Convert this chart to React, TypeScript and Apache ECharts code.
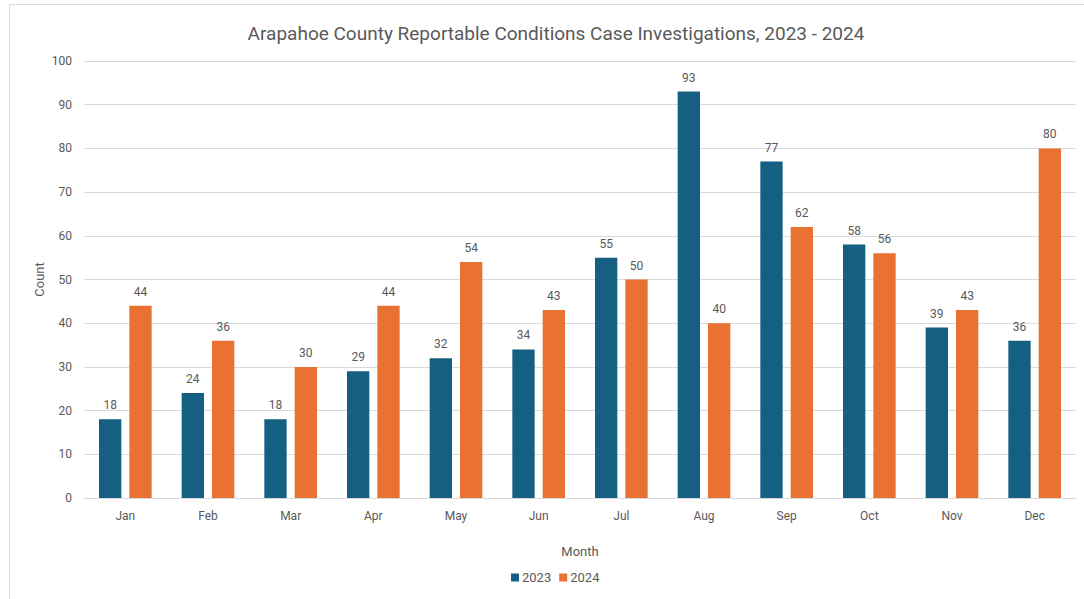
import React, { useEffect, useRef } from "react";
import * as echarts from "echarts";

const months = ["Jan", "Feb", "Mar", "Apr", "May", "Jun", "Jul", "Aug", "Sep", "Oct", "Nov", "Dec"];
const cases2023 = [18, 24, 18, 29, 32, 34, 55, 93, 77, 58, 39, 36];
const cases2024 = [44, 36, 30, 44, 54, 43, 50, 40, 62, 56, 43, 80];
const seriesNames = ["2023", "2024"];
const colors = ["#156082", "#E97132"];

export default function App() {
  const ref = useRef<HTMLDivElement>(null);
  useEffect(() => {
    if (!ref.current) return;
    const chart = echarts.init(ref.current, null, { renderer: "svg" });
    const font = "Roboto, 'Open Sans', sans-serif";
    chart.setOption({
      animation: false,
      textStyle: { fontFamily: font },
      title: {
        text: "Arapahoe County Reportable Conditions Case Investigations, 2023 - 2024",
        left: 551,
        top: 19,
        textAlign: "center",
        textStyle: { fontSize: 19, fontWeight: "normal", color: "#595959", fontFamily: font },
      },
      graphic: [
        {
          type: "rect",
          shape: { x: 9.5, y: 4.5, width: 1080, height: 600 },
          style: { fill: "none", stroke: "#d9d9d9", lineWidth: 1 },
          silent: true,
        },
      ],
      legend: {
        data: seriesNames,
        bottom: 10,
        left: 506,
        itemWidth: 8,
        itemHeight: 8,
        itemGap: 8,
        icon: "rect",
        textStyle: { color: "#595959", fontSize: 13, padding: [0, 0, 0, -2] },
      },
      grid: { left: 84, right: 8, top: 61, bottom: 101, containLabel: false },
      xAxis: {
        type: "category",
        data: months,
        name: "Month",
        nameLocation: "middle",
        nameGap: 47,
        nameTextStyle: { color: "#595959", fontSize: 13 },
        axisLine: { lineStyle: { color: "#d9d9d9" } },
        axisTick: { show: false },
        axisLabel: { color: "#595959", fontSize: 12, margin: 12 },
      },
      yAxis: {
        type: "value",
        min: 0,
        max: 100,
        interval: 10,
        name: "Count",
        nameLocation: "middle",
        nameGap: 38,
        nameMoveOverlap: false,
        nameTextStyle: { color: "#595959", fontSize: 13 },
        axisLabel: { color: "#595959", fontSize: 12, margin: 12 },
        splitLine: { lineStyle: { color: "#d9d9d9" } },
      },
      series: [
        {
          name: seriesNames[0],
          type: "bar",
          data: cases2023,
          barWidth: "27%",
          barGap: "36%",
          itemStyle: { color: colors[0] },
          label: { show: true, position: "top", color: "#595959", fontSize: 12, distance: 8 },
        },
        {
          name: seriesNames[1],
          type: "bar",
          data: cases2024,
          barWidth: "27%",
          itemStyle: { color: colors[1] },
          label: { show: true, position: "top", color: "#595959", fontSize: 12, distance: 8 },
        },
      ],
    });
    return () => chart.dispose();
  }, []);
  return <div ref={ref} style={{ width: 1084, height: 599, position: "absolute", left: 0, top: 0 }} />;
}
